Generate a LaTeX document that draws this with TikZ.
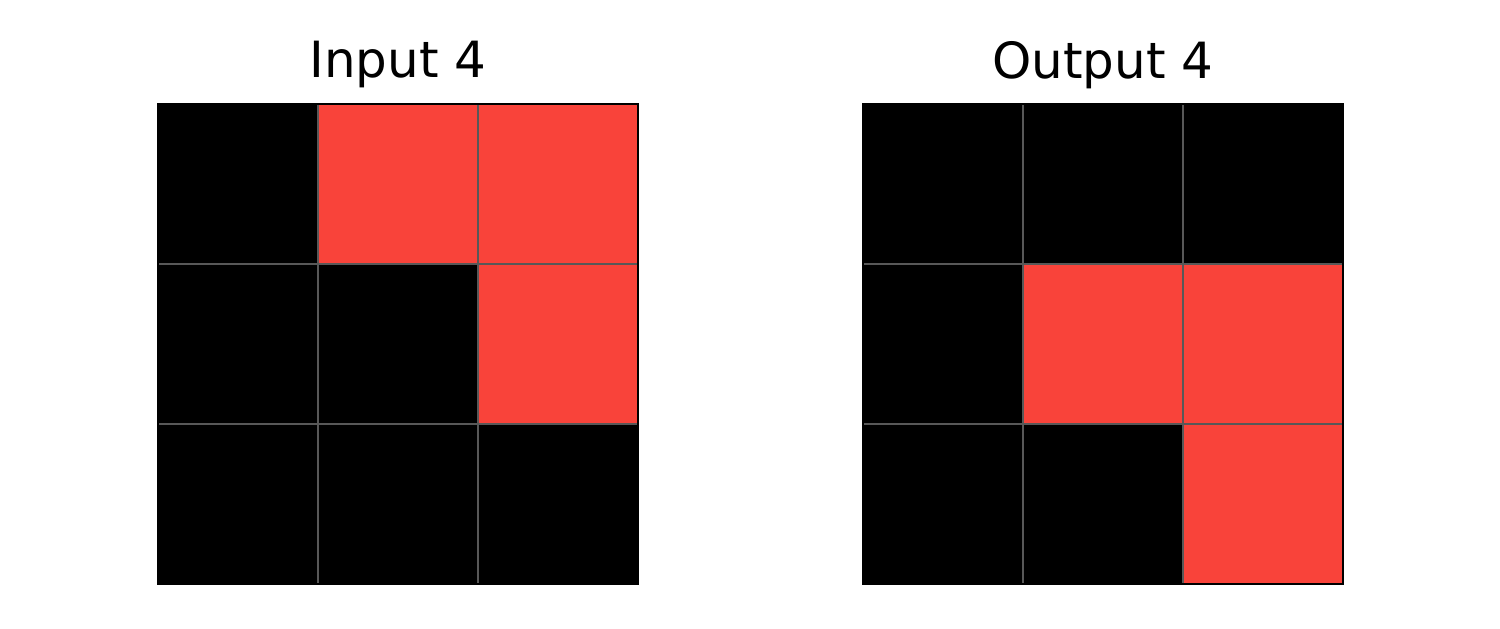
\documentclass[tikz,border=0pt]{standalone}
\usepackage{fontspec}
\setmainfont{DejaVu Sans}
\usetikzlibrary{positioning}
\definecolor{arcred}{RGB}{249,67,58}
\definecolor{gridgray}{RGB}{88,88,88}
\tikzset{
  cell/.style={rectangle, minimum size=1.6cm, inner sep=0pt, outer sep=0pt, draw=none},
  ttl/.style={font=\fontsize{14.2}{17}\selectfont, inner sep=0pt},
  gridln/.style={gridgray, line width=0.6pt},
  frm/.style={black, line width=0.8pt},
}

\begin{document}
\begin{tikzpicture}
\useasboundingbox (0,0) rectangle (15,6.29);

% ── Input 4 ─────────────────────────────────────────────────
\foreach \r/\c/\col in {0/0/black, 0/1/arcred, 0/2/arcred,
                         1/0/black, 1/1/black,  1/2/arcred,
                         2/0/black, 2/1/black,  2/2/black} {
  \node[cell, fill=\col] (in-\r-\c) at ({2.38+1.6*\c}, {4.45-1.6*\r}) {};
}
\foreach \c in {0, 1} {
  \draw[gridln] (in-0-\c.north east) -- (in-2-\c.south east);
  \draw[gridln] (in-\c-0.south west) -- (in-\c-2.south east);
}
\draw[frm] (in-0-0.north west) rectangle (in-2-2.south east);
\node[ttl] (intitle) at (3.98, 5.64) {Input 4};

% ── Output 4 ────────────────────────────────────────────────
\foreach \r/\c/\col in {0/0/black, 0/1/black,  0/2/black,
                         1/0/black, 1/1/arcred, 1/2/arcred,
                         2/0/black, 2/1/black,  2/2/arcred} {
  \node[cell, fill=\col] (out-\r-\c) at ({9.43+1.6*\c}, {4.45-1.6*\r}) {};
}
\foreach \c in {0, 1} {
  \draw[gridln] (out-0-\c.north east) -- (out-2-\c.south east);
  \draw[gridln] (out-\c-0.south west) -- (out-\c-2.south east);
}
\draw[frm] (out-0-0.north west) rectangle (out-2-2.south east);
\node[ttl] (outtitle) at (11.03, 5.64) {Output 4};

\end{tikzpicture}
\end{document}
